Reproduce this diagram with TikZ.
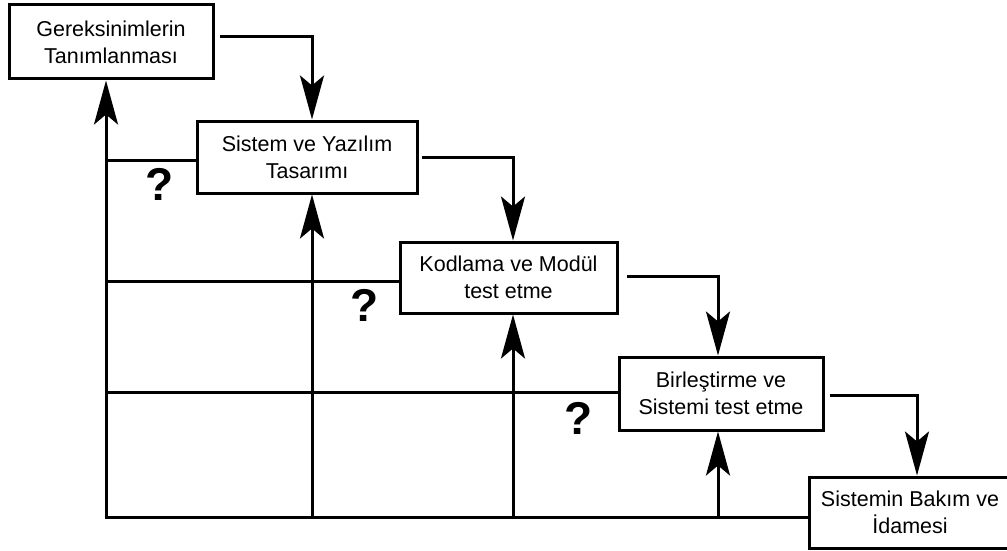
\documentclass[tikz,border=0pt]{standalone}
\usepackage{fontspec}
\setmainfont{Liberation Sans}
\usetikzlibrary{arrows.meta}
\begin{document}
\begin{tikzpicture}[x=1pt,y=-1pt,
  box/.style={draw,line width=3pt,rectangle,align=center,inner sep=0pt,
    font=\fontsize{21.5}{27}\selectfont},
  link/.style={line width=3pt},
  arr/.style={line width=3pt,-{Stealth[length=44pt,width=24pt,inset=10pt]}},
  qm/.style={font=\bfseries\fontsize{46}{46}\selectfont,inner sep=0pt}]
\useasboundingbox (0,0) rectangle (1007,551);
\fill[white] (0,0) rectangle (1007,551);
\node[box,minimum width=204pt,minimum height=74pt] (b1) at (111,42) {Gereksinimlerin\\Tanımlanması};
\node[box,minimum width=220pt,minimum height=72pt] (b2) at (307,157) {Sistem ve Yazılım\\Tasarımı};
\node[box,minimum width=217pt,minimum height=71pt] (b3) at (508.5,277.5) {Kodlama ve Modül\\test etme};
\node[box,minimum width=204pt,minimum height=73pt] (b4) at (721,393.5) {Birleştirme ve\\Sistemi test etme};
\node[box,minimum width=202pt,minimum height=71pt] (b5) at (910,512.5) {Sistemin Bakım ve\\İdamesi};
% forward arrows
\draw[arr] ([xshift=5pt,yshift=5pt]b1.east) -| ([xshift=5pt]b2.north);
\draw[arr] ([xshift=3pt]b2.east) -| ([xshift=4.5pt]b3.north);
\draw[arr] ([xshift=8pt,yshift=1.5pt]b3.east) -| ([xshift=-3pt]b4.north);
\draw[arr] ([xshift=5pt,yshift=-1.5pt]b4.east) -| ([xshift=7pt]b5.north);
% feedback
\coordinate (bl) at (106,517);
\coordinate (u2) at (312,517);
\coordinate (u3) at (513,517);
\coordinate (u4) at (718,517);
\coordinate (h2) at (106,160);
\coordinate (h3) at (106,281);
\coordinate (h4) at (106,392);
\draw[arr] (bl) -- (bl |- b1.south);
\draw[link] ([xshift=-1.5pt]bl) -- (bl -| b5.west);
\draw[arr] (u2) -- (u2 |- b2.south);
\draw[arr] (u3) -- (u3 |- b3.south);
\draw[arr] (u4) -- (u4 |- b4.south);
\draw[link] (h2) -- (h2 -| b2.west);
\draw[link] (h3) -- (h3 -| b3.west);
\draw[link] (h4) -- (h4 -| b4.west);
\node[qm] (q1) at (160,184) {?};
\node[qm] (q2) at (365,305) {?};
\node[qm] (q3) at (579,418) {?};
\end{tikzpicture}
\end{document}
